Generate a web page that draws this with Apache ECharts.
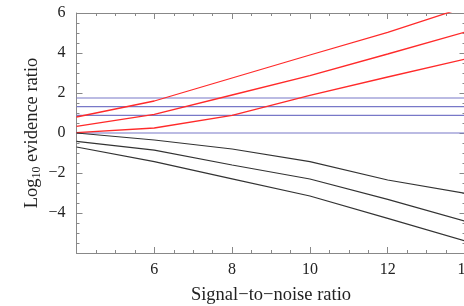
<!DOCTYPE html>
<html><head><meta charset="utf-8">
<script src="https://cdn.jsdelivr.net/npm/echarts@6/dist/echarts.min.js"></script>
<style>html,body{margin:0;padding:0;background:#fff}#c{width:464px;height:306px}</style>
</head><body><div id="c"></div>
<script>
const snr = [4, 6, 8, 10, 12, 14];
const redTop = [0.8, 1.6, 2.75, 3.9, 5.03, 6.3];
const redMid = [0.33, 0.93, 1.9, 2.87, 3.95, 5.05];
const redLow = [0.02, 0.25, 0.88, 1.88, 2.8, 3.7];
const blackTop = [0.0, -0.35, -0.8, -1.43, -2.35, -3.02];
const blackMid = [-0.42, -0.86, -1.6, -2.3, -3.32, -4.42];
const blackLow = [-0.7, -1.43, -2.29, -3.15, -4.27, -5.4];
const thresholds = [0, 0.88, 1.32, 1.75];
const xTicks = [4, 6, 8, 10, 12, 14];
const yTicks = [-6, -4, -2, 0, 2, 4, 6];

const serif = '"Liberation Serif","DejaVu Serif",serif';
const axisGray = '#888';
function pairs(ys){ return snr.map((x,i)=>[x, ys[i]]); }
function lineSeries(ys, color, w){
  return {type:'line', data:pairs(ys), showSymbol:false, symbol:'none', clip:true,
    lineStyle:{color:color, width:w}, silent:true, z:3};
}
const series = [];
thresholds.forEach(v=>{
  series.push({type:'line', data:[[xTicks[0],v],[xTicks[xTicks.length-1],v]], symbol:'none', clip:true,
    lineStyle:{color:'#7878c8', width:1.2}, silent:true, z:2});
});
[redTop, redMid, redLow].forEach(s=>series.push(lineSeries(s,'#ff2a2a',1.3)));
[blackTop, blackMid, blackLow].forEach(s=>series.push(lineSeries(s,'#333',1.2)));

const fmt = v => (v === yTicks[0]) ? '' : String(v).replace('-', '\u2212');
const baseX = {type:'value', min:xTicks[0], max:xTicks[xTicks.length-1], interval:2,
  axisLine:{show:true, onZero:false, lineStyle:{color:axisGray, width:1}},
  axisTick:{show:true, inside:true, length:6, lineStyle:{color:axisGray}},
  minorTick:{show:true, splitNumber:4, length:3, lineStyle:{color:axisGray}},
  splitLine:{show:false}, minorSplitLine:{show:false}};
const baseY = {type:'value', min:yTicks[0], max:yTicks[yTicks.length-1], interval:2,
  axisLine:{show:true, onZero:false, lineStyle:{color:axisGray, width:1}},
  axisTick:{show:true, inside:true, length:6, lineStyle:{color:axisGray}},
  minorTick:{show:true, splitNumber:4, length:3, lineStyle:{color:axisGray}},
  splitLine:{show:false}, minorSplitLine:{show:false}};

const chart = echarts.init(document.getElementById('c'), null, {renderer:'canvas'});
chart.setOption({
  animation:false,
  backgroundColor:'#fff',
  grid:{left:76.5, top:13, right:-1.5, bottom:53, containLabel:false, outerBoundsMode:'none'},
  xAxis:[
    Object.assign({}, baseX, {position:'bottom',
      name:'Signal\u2212to\u2212noise ratio', nameLocation:'middle', nameGap:33, nameMoveOverlap:false,
      nameTextStyle:{fontFamily:serif, fontSize:18.5, color:'#222'},
      axisLabel:{fontFamily:serif, fontSize:16, color:'#222', margin:9, showMaxLabel:true, showMinLabel:false, formatter:v=>String(v)}}),
    Object.assign({}, baseX, {position:'top', axisLabel:{show:false}})
  ],
  yAxis:[
    Object.assign({}, baseY, {position:'left',
      name:'{a|Log}{s|10}{a| evidence ratio}', nameLocation:'middle', nameGap:34, nameRotate:90, nameMoveOverlap:false,
      nameTextStyle:{fontFamily:serif, fontSize:18.5, color:'#222',
        rich:{a:{fontFamily:serif, fontSize:18.5, color:'#222'},
              s:{fontFamily:serif, fontSize:12, color:'#222', padding:[8,0,0,0]}}},
      axisLabel:{fontFamily:serif, fontSize:16, color:'#222', margin:11, formatter:fmt}}),
    Object.assign({}, baseY, {position:'right', axisLabel:{show:false}})
  ],
  series: series
});
</script></body></html>
